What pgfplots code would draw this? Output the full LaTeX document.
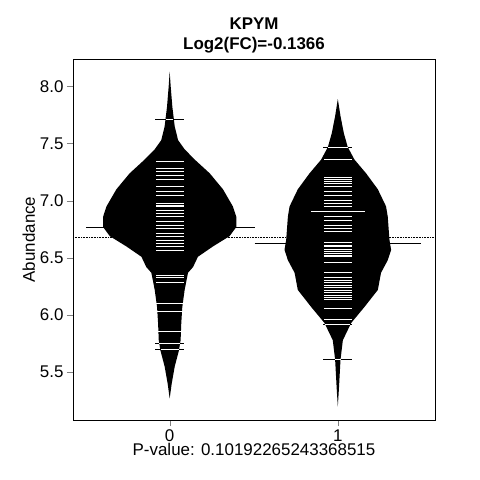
\documentclass[border=0pt]{standalone}
\usepackage{fontspec}
\setmainfont{Liberation Sans}
\usepackage{pgfplots}
\pgfplotsset{compat=1.18}
\begin{document}
\begin{tikzpicture}
\useasboundingbox (-73bp,-60bp) rectangle (407bp,420bp);
\begin{axis}[at={(0,0)},anchor=south west,scale only axis,
 width=362bp,height=361bp,
 xmin=-0.575,xmax=1.578,ymin=5.082,ymax=8.24,
 xtick={0,1},ytick={5.5,6,6.5,7,7.5,8},
 yticklabels={5.5,6.0,6.5,7.0,7.5,8.0},
 tick align=outside,xtick pos=bottom,ytick pos=left,
 major tick length=6bp,
 /pgf/number format/assume math mode=true,
 ticklabel style={font=\fontsize{17}{19}\selectfont},
 xlabel={P-value: 0.10192265243368515},
 ylabel={Abundance},
 label style={font=\fontsize{17}{19}\selectfont},
 xlabel style={yshift=5bp},ylabel style={yshift=-2bp},
 title={\textbf{KPYM}\\\textbf{Log2(FC)=-0.1366}},
 title style={align=center,font=\fontsize{17}{20}\selectfont,yshift=-4bp},
 axis line style={black,line width=0.8pt},
 clip=true]
\addplot[black,line width=0.8pt,draw=none,error bars/.cd,x dir=both,x fixed=0.087,error mark=none,error bar style={line width=0.8pt}]
 coordinates {(0,7.708) (0,5.700) (0,5.752) (1,7.469) (1,5.612) (1,5.919)};
\addplot[fill=black,draw=none] coordinates {
(0,8.13)(0.006,8.0)(0.016,7.82)(0.030,7.65)(0.050,7.53)(0.089,7.45)(0.149,7.36)(0.238,7.24)(0.317,7.10)(0.376,6.95)(0.396,6.86)(0.396,6.77)(0.356,6.69)(0.257,6.60)(0.168,6.51)(0.139,6.42)(0.109,6.37)(0.089,6.22)(0.075,6.07)(0.069,5.93)(0.065,5.78)(0.055,5.69)(0.030,5.55)(0.012,5.40)(0,5.27)
(-0.012,5.40)(-0.030,5.55)(-0.055,5.69)(-0.065,5.78)(-0.069,5.93)(-0.075,6.07)(-0.089,6.22)(-0.109,6.37)(-0.139,6.42)(-0.168,6.51)(-0.257,6.60)(-0.356,6.69)(-0.396,6.77)(-0.396,6.86)(-0.376,6.95)(-0.317,7.10)(-0.238,7.24)(-0.149,7.36)(-0.089,7.45)(-0.050,7.53)(-0.030,7.65)(-0.016,7.82)(-0.006,8.0)} -- cycle;
\addplot[fill=black,draw=none] coordinates {
(1,7.89)(1.016,7.74)(1.036,7.59)(1.059,7.47)(1.099,7.36)(1.168,7.24)(1.238,7.10)(1.287,6.95)(1.297,6.86)(1.307,6.66)(1.317,6.57)(1.297,6.48)(1.257,6.37)(1.238,6.22)(1.158,6.07)(1.079,5.93)(1.030,5.78)(1.016,5.61)(1.006,5.34)(1,5.20)
(0.994,5.34)(0.984,5.61)(0.970,5.78)(0.921,5.93)(0.842,6.07)(0.762,6.22)(0.743,6.37)(0.703,6.48)(0.683,6.57)(0.693,6.66)(0.703,6.86)(0.713,6.95)(0.762,7.10)(0.832,7.24)(0.901,7.36)(0.941,7.47)(0.964,7.59)(0.984,7.74)} -- cycle;
\addplot[white,draw=none,error bars/.cd,x dir=both,x fixed=0.083,error mark=none,error bar style={line width=0.7pt}]
 coordinates {(0,7.343)(0,7.285)(0,7.256)(0,7.226)(0,7.183)(0,7.124)(0,7.081)(0,7.051)(0,6.978)(0,6.964)(0,6.949)(0,6.920)(0,6.891)(0,6.862)(0,6.818)(0,6.789)(0,6.759)(0,6.716)(0,6.686)(0,6.657)(0,6.628)(0,6.599)(0,6.570)(0,6.351)(0,6.330)(0,6.286)(0,6.102)(0,6.030)(0,5.860)
 (1,7.358)(1,7.206)(1,7.189)(1,7.168)(1,7.148)(1,7.124)(1,7.081)(1,7.043)(1,7.007)(1,6.978)(1,6.949)(1,6.867)(1,6.832)(1,6.789)(1,6.759)(1,6.730)(1,6.634)(1,6.613)(1,6.599)(1,6.575)(1,6.555)(1,6.540)(1,6.526)(1,6.511)(1,6.462)(1,6.374)(1,6.330)(1,6.307)(1,6.284)(1,6.263)(1,6.243)(1,6.219)(1,6.196)(1,6.176)(1,6.155)(1,6.138)(1,6.059)(1,5.962)};
\addplot[white,draw=none,error bars/.cd,x dir=both,x explicit,error mark=none,error bar style={line width=0.7pt}]
 coordinates {(0,7.708) +- (0.02,0) (0,5.752) +- (0.062,0) (0,5.700) +- (0.054,0) (1,7.469) +- (0.058,0) (1,5.919) +- (0.075,0) (1,5.612) +- (0.016,0)};
\addplot[white,draw=none,error bars/.cd,x dir=both,x fixed=0.16,error mark=none,error bar style={line width=0.7pt}]
 coordinates {(1,6.905)};
\addplot[black,line width=1.6pt] coordinates {(-0.495,6.765)(0.505,6.765)};
\addplot[black,line width=1.6pt] coordinates {(0.505,6.625)(1.495,6.625)};
\addplot[black,densely dotted,line width=0.6pt] coordinates {(-0.575,6.68)(1.578,6.68)};
\end{axis}
\end{tikzpicture}
\end{document}
